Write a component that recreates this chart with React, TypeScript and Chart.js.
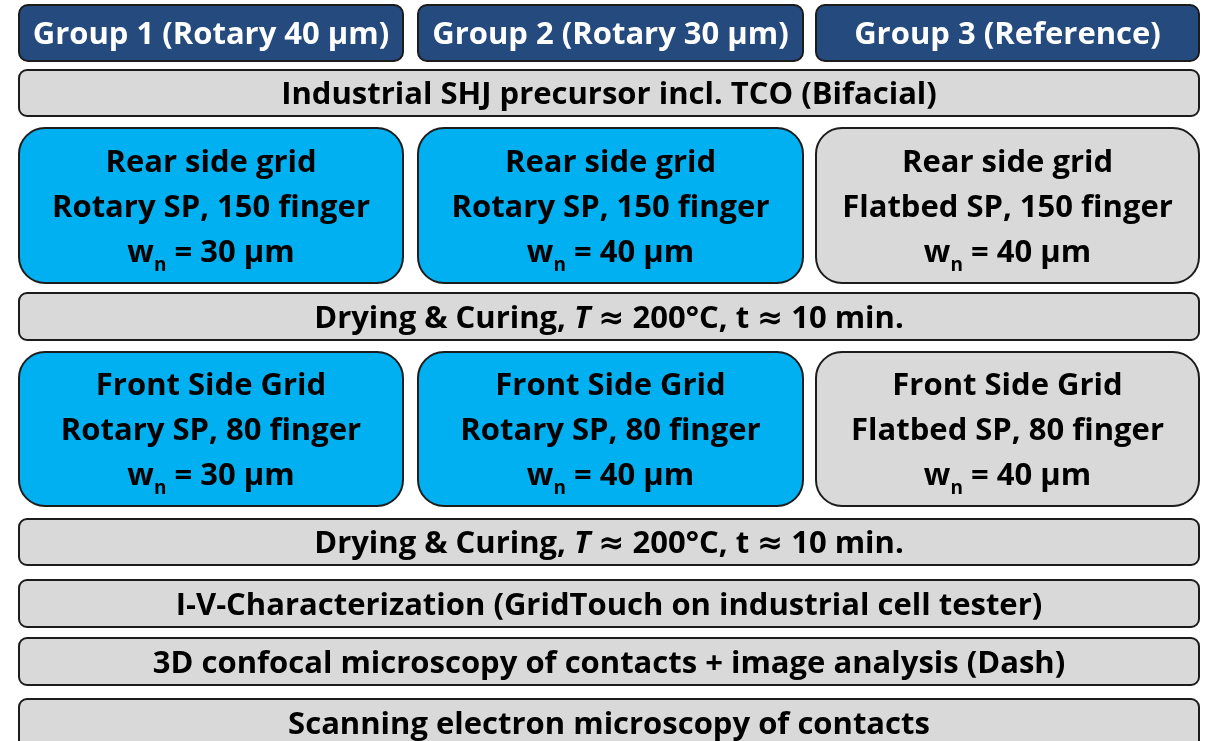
import React, { useEffect, useRef } from "react";
import { Chart, registerables } from "chart.js";

Chart.register(...registerables);

// ---- content ----
const groupTitles = ["Group 1 (Rotary 40 µm)", "Group 2 (Rotary 30 µm)", "Group 3 (Reference)"];
const precursorLabel = "Industrial SHJ precursor incl. TCO (Bifacial)";
const rearTitle = "Rear side grid";
const frontTitle = "Front Side Grid";
const printMethods = ["Rotary SP", "Rotary SP", "Flatbed SP"];
const rearFingers = [150, 150, 150];
const frontFingers = [80, 80, 80];
const rearWidths = [30, 40, 40];
const frontWidths = [30, 40, 40];
const curingTemp = 200;
const curingTime = 10;
const finalSteps = [
  "I-V-Characterization (GridTouch on industrial cell tester)",
  "3D confocal microscopy of contacts + image analysis (Dash)",
  "Scanning electron microscopy of contacts",
];
const groupKinds = ["rotary", "rotary", "reference"];

// ---- layout (diagram coordinates, mapped through chart scales) ----
const W = 1210;
const H = 741;
const COLS: [number, number][] = [[19, 403], [418, 803], [816, 1199]];
const FULL: [number, number] = [19, 1199];

const COLORS = {
  header: "#244A7E",
  rotary: "#00B0F0",
  reference: "#D9D9D9",
  gray: "#D9D9D9",
  border: "#1c1c1c",
};
const FONT = "'Open Sans', Lato, sans-serif";
const SYM_FONT = "'DejaVu Sans', sans-serif";
const FS = 31;

type Seg = { t: string; italic?: boolean; sub?: boolean; sym?: boolean };

function roundRect(ctx: CanvasRenderingContext2D, x: number, y: number, w: number, h: number, r: number) {
  ctx.beginPath();
  ctx.moveTo(x + r, y);
  ctx.lineTo(x + w - r, y);
  ctx.arcTo(x + w, y, x + w, y + r, r);
  ctx.lineTo(x + w, y + h - r);
  ctx.arcTo(x + w, y + h, x + w - r, y + h, r);
  ctx.lineTo(x + r, y + h);
  ctx.arcTo(x, y + h, x, y + h - r, r);
  ctx.lineTo(x, y + r);
  ctx.arcTo(x, y, x + r, y, r);
  ctx.closePath();
}

function fontFor(s: Seg) {
  if (s.sym) return `bold ${FS}px ${SYM_FONT}`;
  const size = s.sub ? Math.round(FS * 0.62) : FS;
  return `${s.italic ? "italic " : ""}bold ${size}px ${FONT}`;
}

function drawRich(ctx: CanvasRenderingContext2D, segs: Seg[], cx: number, baseline: number, color: string) {
  let total = 0;
  const widths = segs.map((s) => {
    ctx.font = fontFor(s);
    const w = ctx.measureText(s.t).width;
    total += w;
    return w;
  });
  let x = cx - total / 2;
  ctx.fillStyle = color;
  ctx.textBaseline = "alphabetic";
  ctx.textAlign = "left";
  segs.forEach((s, i) => {
    ctx.font = fontFor(s);
    ctx.fillText(s.t, x, baseline + (s.sub ? FS * 0.3 : 0));
    x += widths[i];
  });
}

type Box = {
  x: [number, number];
  y: [number, number];
  r: number;
  fill: string;
  lines: Seg[][];
  color: string;
};

function buildBoxes(): Box[] {
  const boxes: Box[] = [];
  groupTitles.forEach((t, i) =>
    boxes.push({ x: COLS[i], y: [5, 61], r: 9, fill: COLORS.header, lines: [[{ t }]], color: "#ffffff" })
  );
  boxes.push({ x: FULL, y: [70, 116], r: 8, fill: COLORS.gray, lines: [[{ t: precursorLabel }]], color: "#000" });
  const gridBox = (yr: [number, number], title: string, fingers: number[], widths: number[]) =>
    COLS.forEach((c, i) =>
      boxes.push({
        x: c,
        y: yr,
        r: 26,
        fill: groupKinds[i] === "rotary" ? COLORS.rotary : COLORS.reference,
        lines: [
          [{ t: title }],
          [{ t: `${printMethods[i]}, ${fingers[i]} finger` }],
          [{ t: "w" }, { t: "n", sub: true }, { t: ` = ${widths[i]} µm` }],
        ],
        color: "#000",
      })
    );
  const curing: Seg[] = [
    { t: "Drying & Curing, " },
    { t: "T", italic: true },
    { t: " " },
    { t: "≈", sym: true },
    { t: ` ${curingTemp}°C, t ` },
    { t: "≈", sym: true },
    { t: ` ${curingTime} min.` },
  ];
  gridBox([128, 283], rearTitle, rearFingers, rearWidths);
  boxes.push({ x: FULL, y: [293, 340], r: 8, fill: COLORS.gray, lines: [curing], color: "#000" });
  gridBox([352, 506], frontTitle, frontFingers, frontWidths);
  boxes.push({ x: FULL, y: [519, 565], r: 8, fill: COLORS.gray, lines: [curing], color: "#000" });
  const stepRows: [number, number][] = [[580, 627], [638, 685], [699, 760]];
  finalSteps.forEach((t, i) =>
    boxes.push({ x: FULL, y: stepRows[i], r: 8, fill: COLORS.gray, lines: [[{ t }]], color: "#000" })
  );
  return boxes;
}

const flowPlugin = {
  id: "flowBoxes",
  afterDraw(chart: any) {
    const ctx: CanvasRenderingContext2D = chart.ctx;
    const xs = chart.scales.x;
    const ys = chart.scales.y;
    ctx.save();
    ctx.font = `bold ${FS}px ${FONT}`;
    const cap = ctx.measureText("H").actualBoundingBoxAscent;
    for (const b of buildBoxes()) {
      const x0 = xs.getPixelForValue(b.x[0]);
      const x1 = xs.getPixelForValue(b.x[1]);
      const y0 = ys.getPixelForValue(b.y[0]);
      const y1 = ys.getPixelForValue(b.y[1]);
      roundRect(ctx, x0, y0, x1 - x0, y1 - y0, b.r);
      ctx.fillStyle = b.fill;
      ctx.fill();
      ctx.lineWidth = 2;
      ctx.strokeStyle = COLORS.border;
      ctx.stroke();
      const cx = (x0 + x1) / 2;
      const cy = b.y[1] > H ? y0 + 23.5 : (y0 + y1) / 2;
      const n = b.lines.length;
      const gap = 45;
      b.lines.forEach((segs, i) => {
        const base = cy + (i - (n - 1) / 2) * gap + cap / 2;
        drawRich(ctx, segs, cx, base, b.color);
      });
    }
    ctx.restore();
  },
};

export default function App() {
  const ref = useRef<HTMLCanvasElement | null>(null);
  useEffect(() => {
    document.body.style.margin = "0";
    document.body.style.background = "#ffffff";
    const canvas = ref.current!;
    const chart = new Chart(canvas, {
      type: "scatter",
      data: { datasets: [{ data: [], pointRadius: 0 }] },
      options: {
        responsive: false,
        animation: false,
        layout: { padding: 0 },
        plugins: { legend: { display: false }, tooltip: { enabled: false } },
        scales: {
          x: { type: "linear", min: 0, max: W, display: false },
          y: { type: "linear", min: 0, max: H, reverse: true, display: false },
        },
      },
      plugins: [flowPlugin],
    });
    return () => chart.destroy();
  }, []);
  return (
    <div style={{ width: W, height: H, background: "#fff" }}>
      <canvas ref={ref} width={W} height={H} style={{ display: "block" }} />
    </div>
  );
}
